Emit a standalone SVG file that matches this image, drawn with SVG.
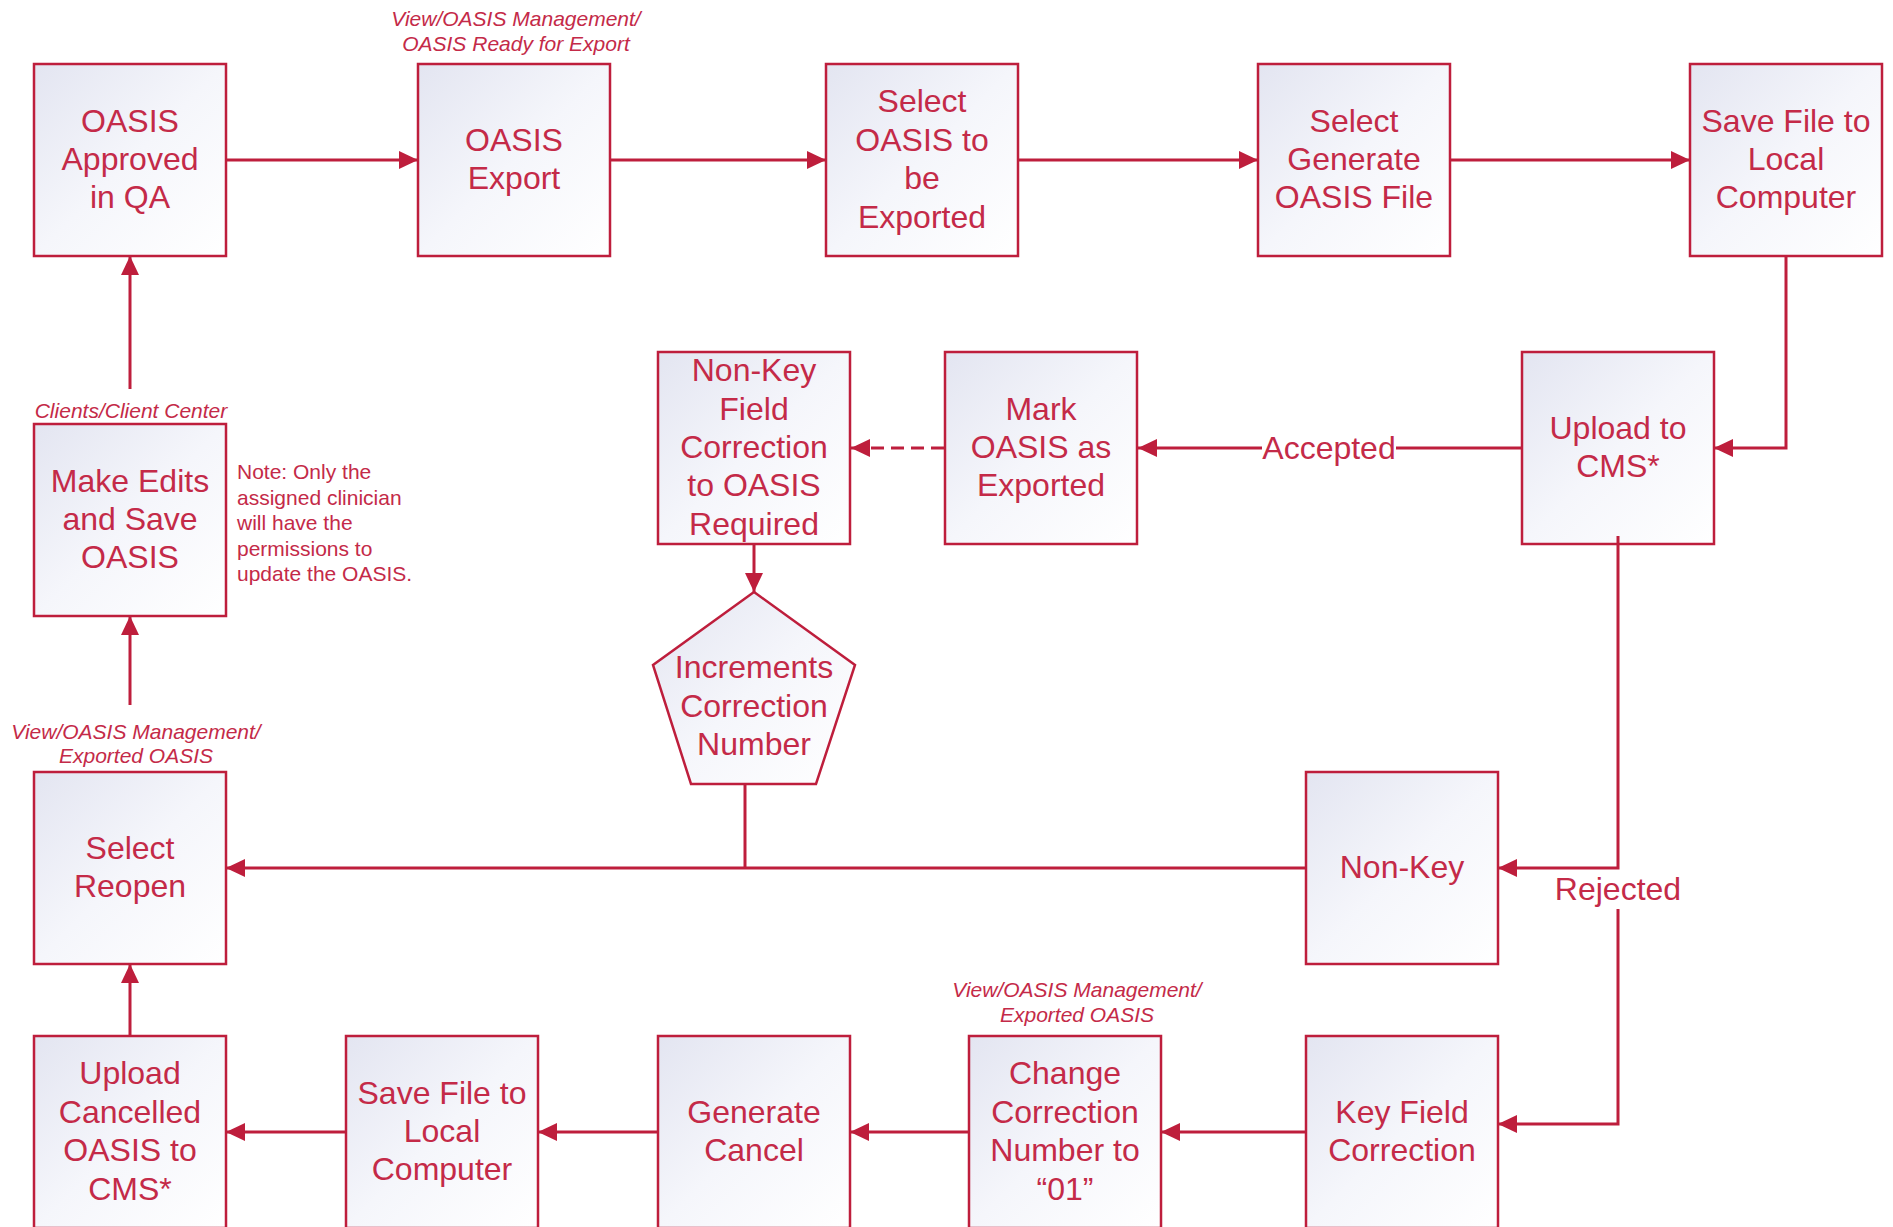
<svg xmlns="http://www.w3.org/2000/svg" width="1893" height="1227" viewBox="0 0 1893 1227">
<defs>
<linearGradient id="bg" x1="0" y1="0" x2="1" y2="1">
<stop offset="0" stop-color="#E3E5F1"/>
<stop offset="0.5" stop-color="#F5F6FB"/>
<stop offset="1" stop-color="#FFFFFF"/>
</linearGradient>
<marker id="arr" markerUnits="userSpaceOnUse" markerWidth="19" markerHeight="18" refX="19" refY="9" orient="auto">
<path d="M0,0 L19,9 L0,18 z" fill="#BE1E3C"/>
</marker>
<style>
.box{fill:url(#bg);stroke:#BE1E3C;stroke-width:2.5}
.t{font-family:"Liberation Sans",Arial,sans-serif;font-size:32px;fill:#C42A48;text-anchor:middle}
.lbl{font-family:"Liberation Sans",Arial,sans-serif;font-size:21px;font-style:italic;fill:#C42A48;text-anchor:middle}
.note{font-family:"Liberation Sans",Arial,sans-serif;font-size:21px;fill:#C42A48}
.c{fill:none;stroke:#BE1E3C;stroke-width:3}
.ca{fill:none;stroke:#BE1E3C;stroke-width:3;marker-end:url(#arr)}
</style>
</defs>
<rect width="1893" height="1227" fill="#FFFFFF"/>

<g id="labels">
<text class="lbl" x="516" y="26">View/OASIS Management/</text>
<text class="lbl" x="516" y="51">OASIS Ready for Export</text>
<text class="lbl" x="131" y="418">Clients/Client Center</text>
<text class="lbl" x="136" y="739">View/OASIS Management/</text>
<text class="lbl" x="136" y="763">Exported OASIS</text>
<text class="lbl" x="1077" y="997">View/OASIS Management/</text>
<text class="lbl" x="1077" y="1022">Exported OASIS</text>
<text class="note" x="237" y="479">Note: Only the</text>
<text class="note" x="237" y="504.5">assigned clinician</text>
<text class="note" x="237" y="530">will have the</text>
<text class="note" x="237" y="555.5">permissions to</text>
<text class="note" x="237" y="581">update the OASIS.</text>
</g>

<g id="node-approved">
<rect class="box" x="34" y="64" width="192" height="192"/>
<text class="t"><tspan x="130" y="131.6">OASIS</tspan><tspan x="130" y="170">Approved</tspan><tspan x="130" y="208.4">in QA</tspan></text>
</g>
<g id="node-export">
<rect class="box" x="418" y="64" width="192" height="192"/>
<text class="t"><tspan x="514" y="150.8">OASIS</tspan><tspan x="514" y="189.2">Export</tspan></text>
</g>
<g id="node-select-oasis">
<rect class="box" x="826" y="64" width="192" height="192"/>
<text class="t"><tspan x="922" y="112.4">Select</tspan><tspan x="922" y="150.8">OASIS to</tspan><tspan x="922" y="189.2">be</tspan><tspan x="922" y="227.6">Exported</tspan></text>
</g>
<g id="node-generate-file">
<rect class="box" x="1258" y="64" width="192" height="192"/>
<text class="t"><tspan x="1354" y="131.6">Select</tspan><tspan x="1354" y="170">Generate</tspan><tspan x="1354" y="208.4">OASIS File</tspan></text>
</g>
<g id="node-save-file">
<rect class="box" x="1690" y="64" width="192" height="192"/>
<text class="t"><tspan x="1786" y="131.6">Save File to</tspan><tspan x="1786" y="170">Local</tspan><tspan x="1786" y="208.4">Computer</tspan></text>
</g>
<g id="node-nonkey-required">
<rect class="box" x="658" y="352" width="192" height="192"/>
<text class="t"><tspan x="754" y="381.2">Non-Key</tspan><tspan x="754" y="419.6">Field</tspan><tspan x="754" y="458">Correction</tspan><tspan x="754" y="496.4">to OASIS</tspan><tspan x="754" y="534.8">Required</tspan></text>
</g>
<g id="node-mark-exported">
<rect class="box" x="945" y="352" width="192" height="192"/>
<text class="t"><tspan x="1041" y="419.6">Mark</tspan><tspan x="1041" y="458">OASIS as</tspan><tspan x="1041" y="496.4">Exported</tspan></text>
</g>
<g id="node-upload-cms">
<rect class="box" x="1522" y="352" width="192" height="192"/>
<text class="t"><tspan x="1618" y="438.8">Upload to</tspan><tspan x="1618" y="477.2">CMS*</tspan></text>
</g>
<g id="node-make-edits">
<rect class="box" x="34" y="424" width="192" height="192"/>
<text class="t"><tspan x="130" y="491.6">Make Edits</tspan><tspan x="130" y="530">and Save</tspan><tspan x="130" y="568.4">OASIS</tspan></text>
</g>
<g id="node-increments">
<polygon class="box" points="754,592 855,665 816,784 691,784 653,665"/>
<text class="t"><tspan x="754" y="678.3">Increments</tspan><tspan x="754" y="716.7">Correction</tspan><tspan x="754" y="755.1">Number</tspan></text>
</g>
<g id="node-select-reopen">
<rect class="box" x="34" y="772" width="192" height="192"/>
<text class="t"><tspan x="130" y="858.8">Select</tspan><tspan x="130" y="897.2">Reopen</tspan></text>
</g>
<g id="node-nonkey">
<rect class="box" x="1306" y="772" width="192" height="192"/>
<text class="t" x="1402" y="878">Non-Key</text>
</g>
<g id="node-upload-cancelled">
<rect class="box" x="34" y="1036" width="192" height="192"/>
<text class="t"><tspan x="130" y="1084.4">Upload</tspan><tspan x="130" y="1122.8">Cancelled</tspan><tspan x="130" y="1161.2">OASIS to</tspan><tspan x="130" y="1199.6">CMS*</tspan></text>
</g>
<g id="node-save-file-2">
<rect class="box" x="346" y="1036" width="192" height="192"/>
<text class="t"><tspan x="442" y="1103.6">Save File to</tspan><tspan x="442" y="1142">Local</tspan><tspan x="442" y="1180.4">Computer</tspan></text>
</g>
<g id="node-generate-cancel">
<rect class="box" x="658" y="1036" width="192" height="192"/>
<text class="t"><tspan x="754" y="1122.8">Generate</tspan><tspan x="754" y="1161.2">Cancel</tspan></text>
</g>
<g id="node-change-correction">
<rect class="box" x="969" y="1036" width="192" height="192"/>
<text class="t"><tspan x="1065" y="1084.4">Change</tspan><tspan x="1065" y="1122.8">Correction</tspan><tspan x="1065" y="1161.2">Number to</tspan><tspan x="1065" y="1199.6">“01”</tspan></text>
</g>
<g id="node-key-field">
<rect class="box" x="1306" y="1036" width="192" height="192"/>
<text class="t"><tspan x="1402" y="1122.8">Key Field</tspan><tspan x="1402" y="1161.2">Correction</tspan></text>
</g>

<g id="connectors">
<path class="ca" d="M227,160 H418"/>
<path class="ca" d="M611,160 H826"/>
<path class="ca" d="M1019,160 H1258"/>
<path class="ca" d="M1451,160 H1690"/>
<path class="ca" d="M1786,257 V448 H1714"/>
<path class="c" d="M1521,448 H1396"/>
<path class="ca" d="M1262,448 H1138"/>
<text class="t" x="1329" y="459">Accepted</text>
<path class="ca" d="M944,448 H851" stroke-dasharray="13,7"/>
<path class="ca" d="M754,545 V592"/>
<path class="c" d="M745,785 V868"/>
<path class="ca" d="M1305,868 H226"/>
<path class="ca" d="M1618,536 V868 H1498"/>
<text class="t" x="1618" y="900">Rejected</text>
<path class="ca" d="M1618,909 V1124 H1498"/>
<path class="ca" d="M1305,1132 H1161"/>
<path class="ca" d="M968,1132 H850"/>
<path class="ca" d="M657,1132 H538"/>
<path class="ca" d="M345,1132 H226"/>
<path class="ca" d="M130,1035 V964"/>
<path class="ca" d="M130,705 V616"/>
<path class="ca" d="M130,389 V256"/>
</g>
</svg>
